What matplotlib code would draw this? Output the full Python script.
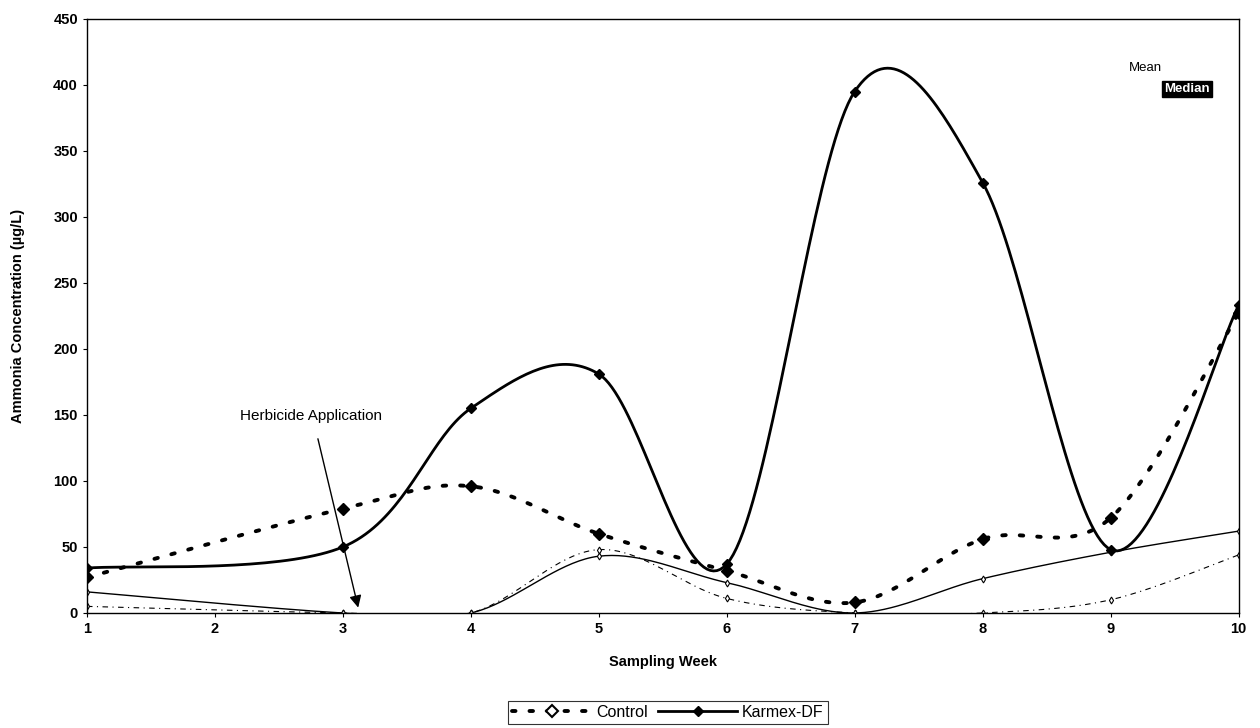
import numpy as np
import matplotlib
matplotlib.use("Agg")
import matplotlib.pyplot as plt
from matplotlib.lines import Line2D

plt.rcParams['font.family'] = ['Liberation Sans', 'DejaVu Sans']

# ---- data ----
weeks = [1, 2, 3, 4, 5, 6, 7, 8, 9, 10]
control_mean = [27, np.nan, 79, 96, 60, 32, 8, 56, 72, 227]
karmex_mean = [34, np.nan, 50, 155, 181, 37, 395, 326, 48, 233]
control_median = [5, np.nan, 0, 0, 48, 11, 0, 0, 10, 44]
karmex_median = [16, np.nan, 0, 0, 43, 23, 0, 26, 46, 62]
y_ticks = [0, 50, 100, 150, 200, 250, 300, 350, 400, 450]


def smooth(xs, ys, n=40):
    """Excel-like smoothed line (Catmull-Rom Bezier) through the valid points."""
    pts = np.array([(x, y) for x, y in zip(xs, ys) if not np.isnan(y)], float)
    out = [pts[0]]
    m = len(pts)
    for i in range(m - 1):
        p0 = pts[i - 1] if i > 0 else pts[i]
        p1 = pts[i]
        p2 = pts[i + 1]
        p3 = pts[i + 2] if i + 2 < m else pts[i + 1]
        b1 = p1 + (p2 - p0) / 6.0
        b2 = p2 - (p3 - p1) / 6.0
        t = np.linspace(0, 1, n)[1:, None]
        seg = ((1 - t) ** 3) * p1 + 3 * ((1 - t) ** 2) * t * b1 + 3 * (1 - t) * t ** 2 * b2 + t ** 3 * p2
        out.extend(seg)
    out = np.array(out)
    return out[:, 0], out[:, 1]


def valid(xs, ys):
    xs2 = [x for x, y in zip(xs, ys) if not np.isnan(y)]
    ys2 = [y for y in ys if not np.isnan(y)]
    return xs2, ys2


dot_style = (0, (0.9, 3.6))

fig = plt.figure(figsize=(12.6, 7.28), dpi=100)
ax = fig.add_axes([0.069, 0.158, 0.914, 0.816])

# medians (thin)
sx, sy = smooth(weeks, karmex_median)
ax.plot(sx, sy, color='black', lw=1.0, solid_capstyle='round')
vx, vy = valid(weeks, karmex_median)
ax.plot(vx, vy, ls='none', marker='d', ms=3.5, mfc='white', mec='black', mew=0.8)

sx, sy = smooth(weeks, control_median)
ax.plot(sx, sy, color='black', lw=0.8, ls=(0, (5, 4, 1, 4)))
vx, vy = valid(weeks, control_median)
ax.plot(vx, vy, ls='none', marker='d', ms=3.5, mfc='white', mec='black', mew=0.8)

# means (thick)
sx, sy = smooth(weeks, control_mean)
ax.plot(sx, sy, color='black', lw=2.8, ls=dot_style, dash_capstyle='round')
vx, vy = valid(weeks, control_mean)
ax.plot(vx, vy, ls='none', marker='D', ms=6, color='black')

sx, sy = smooth(weeks, karmex_mean)
ax.plot(sx, sy, color='black', lw=2.0)
vx, vy = valid(weeks, karmex_mean)
ax.plot(vx, vy, ls='none', marker='D', ms=5.5, color='black')

ax.set_xlim(1, 10)
ax.set_ylim(0, 450)
ax.set_xticks(weeks)
ax.set_yticks(y_ticks)
ax.tick_params(axis='both', labelsize=10.5, direction='out', length=3, width=0.8, color='black')
for lab in ax.get_xticklabels() + ax.get_yticklabels():
    lab.set_fontweight('bold')
for s in ax.spines.values():
    s.set_color('black')
    s.set_linewidth(1.0)

ax.set_xlabel('Sampling Week', fontsize=10.5, fontweight='bold', labelpad=14)
ax.set_ylabel('Ammonia Concentration (\u00b5g/L)', fontsize=10.5, fontweight='bold', labelpad=20)

# annotation
ax.annotate('', xy=(3.125, 2), xytext=(2.80, 134),
            arrowprops=dict(arrowstyle='-|>', color='black', lw=1.0, mutation_scale=18))
ax.text(2.75, 149, 'Herbicide Application', fontsize=11, ha='center', va='center')

# Mean / Median labels at top right
ax.text(9.27, 413, 'Mean', fontsize=9.5, ha='center', va='center')
ax.text(9.60, 397, 'Median', fontsize=9.5, ha='center', va='center', color='white', fontweight='bold',
        bbox=dict(facecolor='black', edgecolor='black', pad=1.5))

# legend at bottom
h_ctrl = Line2D([], [], color='black', lw=2.8, ls=dot_style, dash_capstyle='round',
                marker='D', ms=6, mfc='white', mec='black', mew=1.5)
h_karm = Line2D([], [], color='black', lw=2.0, marker='D', ms=5.5, mfc='black', mec='black')
leg = fig.legend([h_ctrl, h_karm], ['Control', 'Karmex-DF'], loc='center',
                 bbox_to_anchor=(0.530, 0.0215), ncol=2, fontsize=11.5, frameon=True,
                 fancybox=False, edgecolor='black', handlelength=5.0, columnspacing=0.6,
                 handletextpad=0.3, borderpad=0.25, borderaxespad=0)
leg.get_frame().set_linewidth(0.8)

fig.savefig('out.png', dpi=100, facecolor='white')
